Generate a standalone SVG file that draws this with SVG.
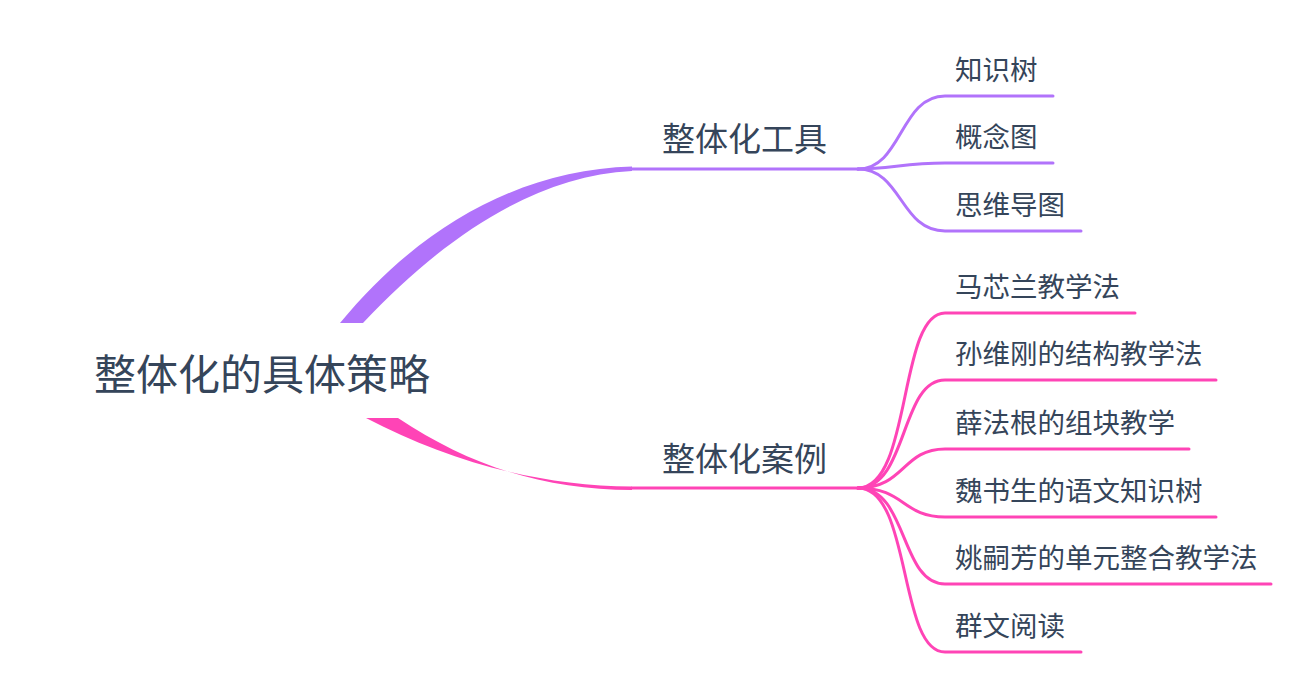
<svg xmlns="http://www.w3.org/2000/svg" width="1315" height="700" viewBox="0 0 1315 700">
<style>
text{font-family:"Noto Sans CJK SC","Noto Sans",sans-serif;fill:#35455a}
.root{font-size:42px}
.l1{font-size:33px}
.l2{font-size:27.5px}
.p{stroke:#b173fb;fill:none;stroke-width:3;stroke-linecap:round}
.k{stroke:#ff44b6;fill:none;stroke-width:3;stroke-linecap:round}
</style>
<rect width="1315" height="700" fill="#ffffff"/>
<g id="connectors">
<path d="M340,323 C420,226 520,170 632,166.5 L632,171 C535,176 445,236 363,323 Z" fill="#b173fb"/>
<path d="M366,418 C450,462 540,486 632,486.5 L632,490 C545,490 470,466 398,418 Z" fill="#ff44b6"/>
<path class="p" d="M632,169 H858"/>
<path class="k" d="M632,488 H858"/>
<path class="p" d="M858,169 C902,169 900,96 945,96 H1053"/>
<path class="p" d="M858,169 C890,169 905,163 945,163 H1053"/>
<path class="p" d="M858,169 C902,169 900,231 945,231 H1081"/>
<path class="k" d="M858,488 C912,488 898,313 945,313 H1135"/>
<path class="k" d="M858,488 C908,488 900,380 945,380 H1216"/>
<path class="k" d="M858,488 C905,488 902,449 945,449 H1189"/>
<path class="k" d="M858,488 C905,488 902,517 945,517 H1216"/>
<path class="k" d="M858,488 C908,488 900,584 945,584 H1271"/>
<path class="k" d="M858,488 C912,488 898,652 945,652 H1081"/>
</g>
<g id="root"><text class="root" x="94" y="390">整体化的具体策略</text></g>
<g id="tools"><text class="l1" x="662" y="151">整体化工具</text></g>
<g id="cases"><text class="l1" x="662" y="471">整体化案例</text></g>
<g id="n1"><text class="l2" x="955" y="80">知识树</text></g>
<g id="n2"><text class="l2" x="955" y="147">概念图</text></g>
<g id="n3"><text class="l2" x="955" y="215">思维导图</text></g>
<g id="c1"><text class="l2" x="955" y="297">马芯兰教学法</text></g>
<g id="c2"><text class="l2" x="955" y="364">孙维刚的结构教学法</text></g>
<g id="c3"><text class="l2" x="955" y="433">薛法根的组块教学</text></g>
<g id="c4"><text class="l2" x="955" y="501">魏书生的语文知识树</text></g>
<g id="c5"><text class="l2" x="955" y="568">姚嗣芳的单元整合教学法</text></g>
<g id="c6"><text class="l2" x="955" y="636">群文阅读</text></g>
</svg>
